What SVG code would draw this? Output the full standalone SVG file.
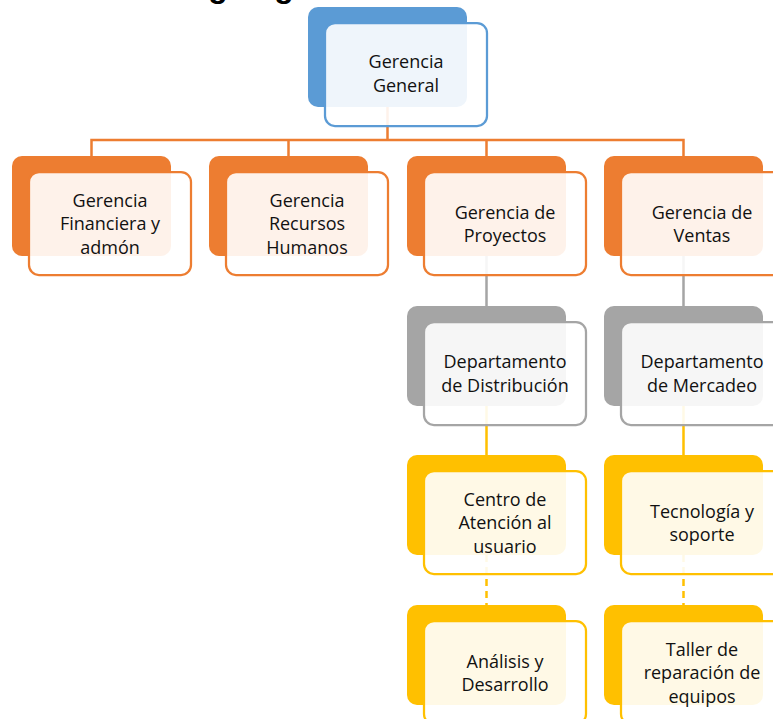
<svg xmlns="http://www.w3.org/2000/svg" width="773" height="719" viewBox="0 0 773 719">
  <style>
    .title { font-family: "Liberation Sans", Arial, sans-serif; font-weight: bold; font-size: 32px; fill: #000; }
    .lbl { font-family: "Open Sans", "Liberation Sans", sans-serif; font-size: 18px; fill: #111; text-anchor: middle; }
    .back { stroke: none; }
    .front { fill: #fff; fill-opacity: 0.9; stroke-width: 2.25; }
    .blue .back { fill: #5B9BD5; } .blue .front { stroke: #5B9BD5; }
    .orange .back { fill: #ED7D31; } .orange .front { stroke: #ED7D31; }
    .gray .back { fill: #A5A5A5; } .gray .front { stroke: #A5A5A5; }
    .yellow .back { fill: #FFC000; } .yellow .front { stroke: #FFC000; }
    .c { fill: none; stroke-width: 2.5; }
  </style>

  <!-- heading, mostly above the top edge -->
  <text class="title" x="171" y="-3">Organigrama</text>

  <!-- connectors (drawn under the nodes) -->
  <g id="connectors">
    <path class="c" stroke="#ED7D31" d="M387.5 107 V140 M91.5 156 V140 H683.5 V156 M288.5 140 V156 M486.5 140 V156"/>
    <path class="c" stroke="#A5A5A5" d="M486.5 256 V306 M683.5 256 V306"/>
    <path class="c" stroke="#FFC000" d="M486.5 406 V455 M683.5 406 V455"/>
    <path class="c" stroke="#FFC000" stroke-dasharray="7 5" d="M486.5 555 V605 M683.5 555 V605"/>
  </g>

  <!-- top level -->
  <g id="gerencia-general" class="blue">
    <rect class="back" x="308" y="7" width="159" height="100" rx="10"/>
    <rect class="front" x="325" y="23" width="162" height="103" rx="10"/>
    <text class="lbl" x="406"><tspan x="406" y="68">Gerencia</tspan><tspan x="406" y="91.5">General</tspan></text>
  </g>

  <!-- second level -->
  <g id="gerencia-financiera" class="orange">
    <rect class="back" x="12" y="156" width="159" height="100" rx="10"/>
    <rect class="front" x="29" y="172" width="162" height="103" rx="10"/>
    <text class="lbl"><tspan x="110" y="206.5">Gerencia</tspan><tspan x="110" y="230">Financiera y</tspan><tspan x="110" y="253.5">admón</tspan></text>
  </g>
  <g id="gerencia-rrhh" class="orange">
    <rect class="back" x="209" y="156" width="159" height="100" rx="10"/>
    <rect class="front" x="226" y="172" width="162" height="103" rx="10"/>
    <text class="lbl"><tspan x="307" y="206.5">Gerencia</tspan><tspan x="307" y="230">Recursos</tspan><tspan x="307" y="253.5">Humanos</tspan></text>
  </g>
  <g id="gerencia-proyectos" class="orange">
    <rect class="back" x="407" y="156" width="159" height="100" rx="10"/>
    <rect class="front" x="424" y="172" width="162" height="103" rx="10"/>
    <text class="lbl"><tspan x="505" y="218.5">Gerencia de</tspan><tspan x="505" y="242">Proyectos</tspan></text>
  </g>
  <g id="gerencia-ventas" class="orange">
    <rect class="back" x="604" y="156" width="159" height="100" rx="10"/>
    <rect class="front" x="621" y="172" width="162" height="103" rx="10"/>
    <text class="lbl"><tspan x="702" y="218.5">Gerencia de</tspan><tspan x="702" y="242">Ventas</tspan></text>
  </g>

  <!-- departments -->
  <g id="depto-distribucion" class="gray">
    <rect class="back" x="407" y="306" width="159" height="100" rx="10"/>
    <rect class="front" x="424" y="322" width="162" height="103" rx="10"/>
    <text class="lbl"><tspan x="505" y="368">Departamento</tspan><tspan x="505" y="391.5">de Distribución</tspan></text>
  </g>
  <g id="depto-mercadeo" class="gray">
    <rect class="back" x="604" y="306" width="159" height="100" rx="10"/>
    <rect class="front" x="621" y="322" width="162" height="103" rx="10"/>
    <text class="lbl"><tspan x="702" y="368">Departamento</tspan><tspan x="702" y="391.5">de Mercadeo</tspan></text>
  </g>

  <!-- units -->
  <g id="centro-atencion" class="yellow">
    <rect class="back" x="407" y="455" width="159" height="100" rx="10"/>
    <rect class="front" x="424" y="471" width="162" height="103" rx="10"/>
    <text class="lbl"><tspan x="505" y="505.5">Centro de</tspan><tspan x="505" y="529">Atención al</tspan><tspan x="505" y="552.5">usuario</tspan></text>
  </g>
  <g id="tecnologia-soporte" class="yellow">
    <rect class="back" x="604" y="455" width="159" height="100" rx="10"/>
    <rect class="front" x="621" y="471" width="162" height="103" rx="10"/>
    <text class="lbl"><tspan x="702" y="517.5">Tecnología y</tspan><tspan x="702" y="541">soporte</tspan></text>
  </g>
  <g id="analisis-desarrollo" class="yellow">
    <rect class="back" x="407" y="605" width="159" height="100" rx="10"/>
    <rect class="front" x="424" y="621" width="162" height="103" rx="10"/>
    <text class="lbl"><tspan x="505" y="667.5">Análisis y</tspan><tspan x="505" y="691">Desarrollo</tspan></text>
  </g>
  <g id="taller-reparacion" class="yellow">
    <rect class="back" x="604" y="605" width="159" height="100" rx="10"/>
    <rect class="front" x="621" y="621" width="162" height="103" rx="10"/>
    <text class="lbl"><tspan x="702" y="655.5">Taller de</tspan><tspan x="702" y="679">reparación de</tspan><tspan x="702" y="702.5">equipos</tspan></text>
  </g>
</svg>
